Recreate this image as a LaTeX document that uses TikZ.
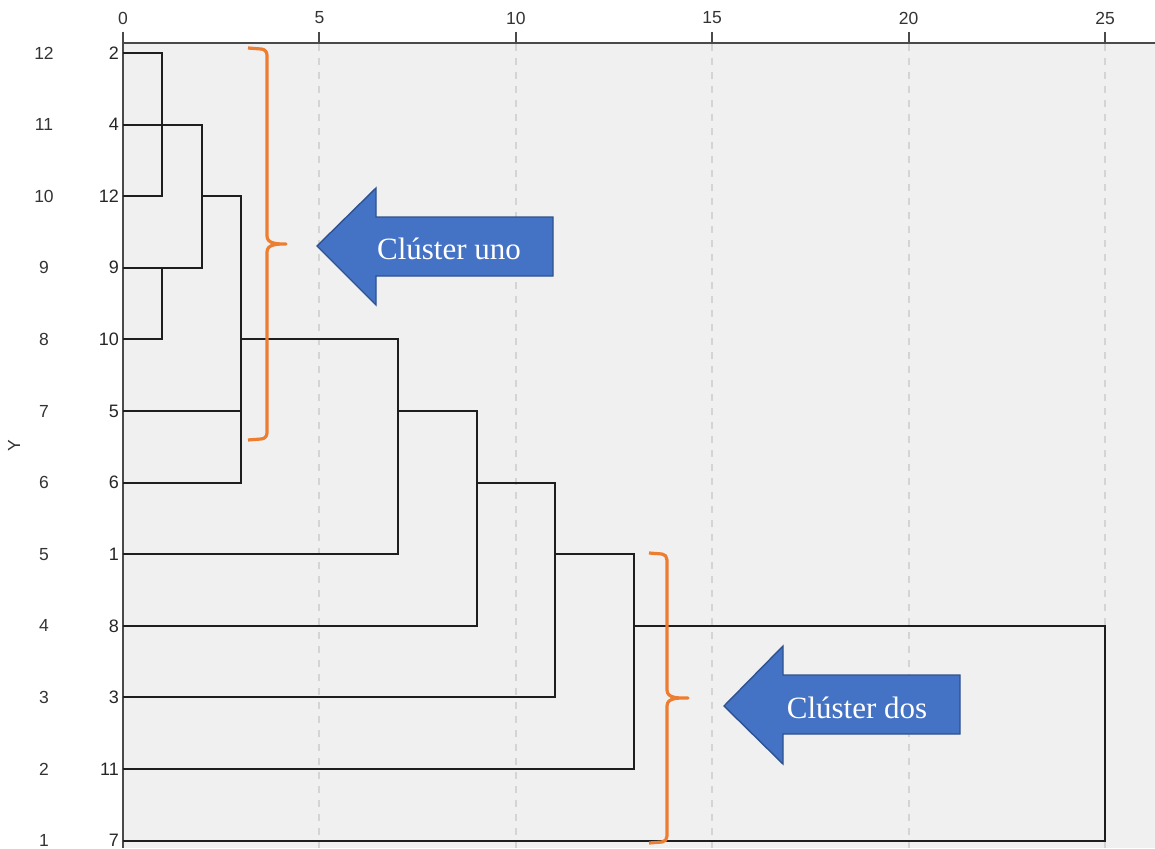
\documentclass[tikz,border=0pt]{standalone}
\usepackage{fontspec}
\setmainfont{Liberation Sans}
\newfontfamily\calloutfont{Liberation Serif}
\definecolor{plotbg}{HTML}{F0F0F0}
\definecolor{gridgray}{HTML}{D4D4D4}
\definecolor{axisgray}{HTML}{4A4A4A}
\definecolor{linkcol}{HTML}{1E1E1E}
\definecolor{braceorange}{HTML}{ED7D31}
\definecolor{arrowfill}{HTML}{4472C4}
\definecolor{arrowedge}{HTML}{2F528F}
\begin{document}
\begin{tikzpicture}[x=1pt,y=-1pt,
  axisline/.style={draw=axisgray, line width=2pt},
  gridline/.style={draw=gridgray, line width=2pt, dash pattern=on 7pt off 7pt},
  link/.style={draw=linkcol, line width=2pt},
  ticklabel/.style={font=\fontsize{17.5}{20}\selectfont, text=black!80, inner sep=0pt},
  leaflabel/.style={font=\fontsize{18}{20}\selectfont, text=black!85, inner sep=0pt, anchor=east},
  bracecurl/.style={draw=braceorange, line width=3.2pt, line join=round},
  callout/.style={fill=arrowfill, draw=arrowedge, line width=1.4pt, line join=miter},
  callouttext/.style={font=\calloutfont\fontsize{31}{36}\selectfont, text=white, inner sep=0pt}
]
\useasboundingbox (0,0) rectangle (1155,848);

% plot panel
\fill[plotbg] (123,43) rectangle (1155,848);

% vertical dashed grid at 5, 10, ..., 25
\foreach \v in {5,10,15,20,25}
  \draw[gridline] ({123+39.28*\v},44) -- ({123+39.28*\v},848);

% rescaled distance axis along the top
\draw[axisline] (123,43) -- (1155,43);
\foreach \v in {0,5,10,15,20,25} {
  \draw[axisline] ({123+39.28*\v},32) -- ({123+39.28*\v},43);
  \node[ticklabel] (tick\v) at ({123+39.28*\v},18) {\v};
}
\draw[axisline] (123,32) -- (123,848);

% row positions of the leaves (top to bottom)
\foreach \i in {0,...,11}
  \coordinate (row\i) at (123,{53+71.6*\i});

% leaf case numbers and the Y row index
\foreach \leaf/\i in {2/0,4/1,12/2,9/3,10/4,5/5,6/6,1/7,8/8,3/9,11/10,7/11} {
  \node[leaflabel] (leaf\leaf) at (119,{53+71.6*\i}) {\leaf};
  \pgfmathtruncatemacro{\yidx}{12-\i}
  \node[ticklabel] (yidx\yidx) at (44,{53+71.6*\i}) {\yidx};
}
\node[ticklabel, rotate=90] (ylabel) at (14,446) {Y};

% merge heights on the rescaled axis
\def\mA{162.3}\def\mB{201.6}\def\mC{240.8}\def\mD{398}
\def\mE{476.5}\def\mF{555}\def\mG{633.6}\def\mH{1105}

% dendrogram links
\draw[link] (row0) -| (\mA,{53+71.6*2}) -- (row2);
\draw[link] (row1) -| (\mB,{53+71.6*3}) -- (row3);
\draw[link] (row4) -| (\mA,{53+71.6*3});
\draw[link] (\mB,{53+71.6*2}) -| (\mC,{53+71.6*6}) -- (row6);
\draw[link] (row5) -- (\mC,{53+71.6*5});
\draw[link] (\mC,{53+71.6*4}) -| (\mD,{53+71.6*7}) -- (row7);
\draw[link] (\mD,{53+71.6*5}) -| (\mE,{53+71.6*8}) -- (row8);
\draw[link] (\mE,{53+71.6*6}) -| (\mF,{53+71.6*9}) -- (row9);
\draw[link] (\mF,{53+71.6*7}) -| (\mG,{53+71.6*10}) -- (row10);
\draw[link] (\mG,{53+71.6*8}) -| (\mH,{53+71.6*11}) -- (row11);

% orange curly braces
\draw[bracecurl] (248,48) -- (261,49) to[out=0,in=90] (267,55) -- (267,236)
  to[out=-90,in=180] (286,244) to[out=180,in=90] (267,252) -- (267,433)
  to[out=-90,in=0] (261,439) -- (248,440);
\draw[bracecurl] (649,553) -- (662,554) to[out=0,in=90] (667,560) -- (667,690)
  to[out=-90,in=180] (688,698) to[out=180,in=90] (667,706) -- (667,836)
  to[out=-90,in=0] (662,842) -- (649,843);

% block arrows with labels
\draw[callout] (317,246) -- (376,188) -- (376,217) -- (553,217) -- (553,276)
  -- (376,276) -- (376,305) -- cycle;
\node[callouttext] (uno) at (449,249) {Clúster uno};
\draw[callout] (724,706) -- (783,646) -- (783,675) -- (960,675) -- (960,734)
  -- (783,734) -- (783,764) -- cycle;
\node[callouttext] (dos) at (857,708) {Clúster dos};
\end{tikzpicture}
\end{document}
